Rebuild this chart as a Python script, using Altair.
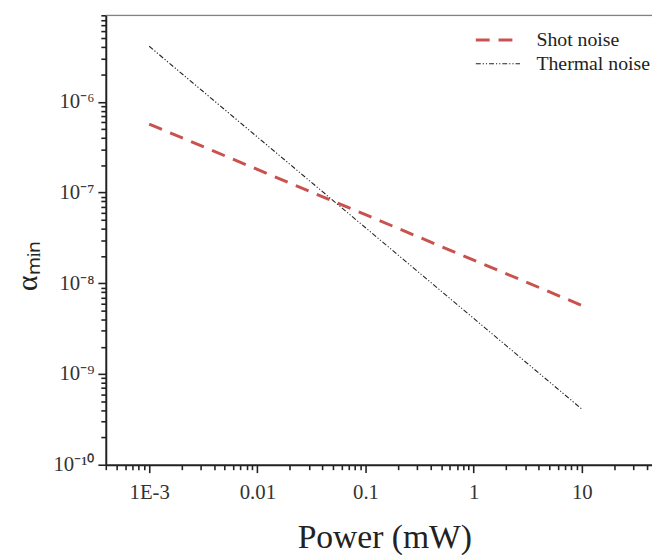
import altair as alt
import pandas as pd

# ---- data ----
power = [0.001, 0.01, 0.1, 1, 10]
shot_noise = [5.7e-7, 1.8e-7, 5.7e-8, 1.8e-8, 5.7e-9]
thermal_noise = [4.1e-6, 4.1e-7, 4.1e-8, 4.1e-9, 4.1e-10]
series_names = ["Shot noise", "Thermal noise"]
series_colors = ["#c9524e", "#222222"]

x_major = [0.001, 0.01, 0.1, 1, 10]
x_major_labels = ["1E-3", "0.01", "0.1", "1", "10"]
y_major = [1e-10, 1e-9, 1e-8, 1e-7, 1e-6]
y_major_labels = ["10⁻¹⁰", "10⁻⁹", "10⁻⁸", "10⁻⁷", "10⁻⁶"]

X_DOMAIN = [3.97e-4, 44.5]
Y_DOMAIN = [1e-10, 9e-6]

FONT = "Liberation Serif"

rows = []
for p, s, t in zip(power, shot_noise, thermal_noise):
    rows.append({"power": p, "alpha": s, "series": series_names[0]})
    rows.append({"power": p, "alpha": t, "series": series_names[1]})
df = pd.DataFrame(rows)


def ticks_in(domain):
    out = []
    for k in range(-12, 4):
        for m in range(1, 10):
            v = float(f"{m}e{k}")
            if domain[0] * 0.999 <= v <= domain[1] * 1.001:
                out.append(v)
    return out


def label_expr(vals, labels):
    expr = "''"
    for v, l in reversed(list(zip(vals, labels))):
        expr = f"abs(datum.value/{v!r} - 1) < 1e-6 ? '{l}' : ({expr})"
    return expr


major_test = "abs(log(datum.value)/LN10 - round(log(datum.value)/LN10)) < 1e-6"
tick_size = {"condition": {"test": major_test, "value": 8}, "value": 5}

W, H = 553, 455

x_axis = alt.Axis(
    values=ticks_in(X_DOMAIN),
    labelExpr=label_expr(x_major, x_major_labels),
    tickSize=tick_size,
    tickWidth=1.6,
    tickColor="#222",
    domainColor="#222",
    domainWidth=2,
    grid=False,
    labelFont=FONT,
    labelFontSize=21,
    labelColor="#333",
    labelPadding=9,
    labelOverlap=False,
    labelFlush=False,
    title="Power (mW)",
    titleFont=FONT,
    titleFontSize=34,
    titleFontWeight="normal",
    titleColor="#222",
    titlePadding=19,
    titleX=282,
)

y_axis = alt.Axis(
    values=ticks_in(Y_DOMAIN),
    labelExpr=label_expr(y_major, y_major_labels),
    tickSize=tick_size,
    tickWidth=1.6,
    tickColor="#222",
    domainColor="#222",
    domainWidth=2,
    grid=False,
    labelFont=FONT,
    labelFontSize=21,
    labelColor="#333",
    labelPadding=4,
    labelOverlap=False,
    labelFlush=False,
    title="αₘᵢₙ",
    titleFont=FONT,
    titleFontSize=30,
    titleFontWeight="normal",
    titleColor="#222",
    titlePadding=11,
    titleY=253,
)

legend = alt.Legend(
    title=None,
    orient="none",
    legendX=373,
    legendY=14,
    symbolType="stroke",
    symbolSize=2000,
    labelFont=FONT,
    labelFontSize=20,
    labelColor="#222",
    labelOffset=15,
    clipHeight=22,
    rowPadding=2,
    padding=0,
)

lines = alt.Chart(df).mark_line(clip=True).encode(
    x=alt.X("power:Q", scale=alt.Scale(type="log", domain=X_DOMAIN, nice=False), axis=x_axis),
    y=alt.Y("alpha:Q", scale=alt.Scale(type="log", domain=Y_DOMAIN, nice=False), axis=y_axis),
    color=alt.Color("series:N", scale=alt.Scale(domain=series_names, range=series_colors),
                    legend=legend),
    strokeDash=alt.StrokeDash("series:N", scale=alt.Scale(domain=series_names,
                              range=[[14, 9], [5, 2, 1.2, 2, 1.2, 2]]),
                              legend=legend),
    strokeWidth=alt.StrokeWidth("series:N", scale=alt.Scale(domain=series_names, range=[3, 1.1]),
                                legend=legend),
)

frame_top = alt.Chart(pd.DataFrame({"a": [0]})).mark_rule(color="#666", strokeWidth=1).encode(
    x=alt.datum(X_DOMAIN[0]),
    x2=alt.datum(X_DOMAIN[1]),
    y=alt.datum(Y_DOMAIN[1]),
)

chart = alt.layer(lines, frame_top).properties(
    width=W,
    height=H,
    autosize=alt.AutoSizeParams(type="none"),
    padding={"left": 99, "top": 4, "right": 0, "bottom": 88},
).configure_view(stroke=None).configure(background="white")

chart.save("out.html", embed_options={"renderer": "svg", "actions": False})
